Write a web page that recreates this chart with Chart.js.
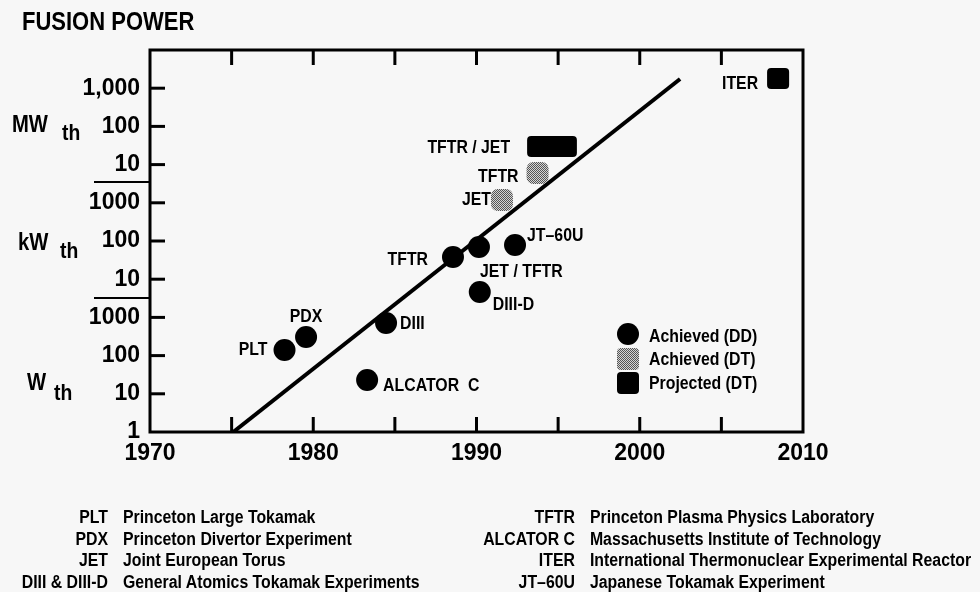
<!DOCTYPE html>
<html>
<head>
<meta charset="utf-8">
<script src="https://cdn.jsdelivr.net/npm/chart.js@4.4.1/dist/chart.umd.min.js"></script>
<style>
  body { margin: 0; background: #f7f7f7; }
  #wrap { position: relative; width: 980px; height: 592px; overflow: hidden; }
  #grafico { position: absolute; left: 0; top: 0; }
  .nar { font-family: "Liberation Sans", Arial, sans-serif; font-weight: bold; color: #000;
         transform: scaleX(0.88); transform-origin: 0 0; white-space: nowrap; }
  #titolo { position: absolute; left: 22px; top: 6px; font-size: 25px; line-height: 30px; }
  .gloss { position: absolute; top: 507px; display: grid; font-size: 18px; line-height: 21.7px; column-gap: 17px; }
  .gloss .ab { text-align: right; }
</style>
</head>
<body>
<div id="wrap">
  <canvas id="grafico" width="980" height="592"></canvas>
  <div id="titolo" class="nar">FUSION POWER</div>
  <div id="glossL" class="gloss nar" style="left:0; grid-template-columns: 122.7px auto;"></div>
  <div id="glossR" class="gloss nar" style="left:475px; grid-template-columns: 113.6px auto;"></div>
</div>
<script>
// achieved with deuterium-deuterium (black dots)
const ddNames = ['PLT', 'PDX', 'ALCATOR  C', 'DIII', 'TFTR', 'JET / TFTR', 'DIII-D', 'JT\u201360U'];
const ddYears = [1978.24, 1979.56, 1983.3, 1984.46, 1988.56, 1990.15, 1990.2, 1992.36];
const ddWatts = [140, 307, 23, 713, 38100, 69600, 4620, 78600];

// achieved with deuterium-tritium (grey squares)
const dtNames = ['JET', 'TFTR'];
const dtYears = [1991.56, 1993.74];
const dtWatts = [1.18e6, 6.03e6];

// projected deuterium-tritium (black blocks, year span)
const projNames = ['TFTR / JET', 'ITER'];
const projFrom = [1993.1, 2007.8];
const projTo = [1996.15, 2009.15];
const projWatts = [2.98e7, 1.80e9];

// trend line
const trendYears = [1975.1, 2002.47];
const trendWatts = [1, 1.74e9];

const yTickValues = [1, 10, 100, 1e3, 1e4, 1e5, 1e6, 1e7, 1e8, 1e9];
const yTickLabels = ['1', '10', '100', '1000', '10', '100', '1000', '10', '100', '1,000'];

const glossLeftAbbr = ['PLT', 'PDX', 'JET', 'DIII & DIII-D'];
const glossLeftText = ['Princeton Large Tokamak', 'Princeton Divertor Experiment', 'Joint European Torus', 'General Atomics Tokamak Experiments'];
const glossRightAbbr = ['TFTR', 'ALCATOR C', 'ITER', 'JT\u201360U'];
const glossRightText = ['Princeton Plasma Physics Laboratory', 'Massachusetts Institute of Technology', 'International Thermonuclear Experimental Reactor', 'Japanese Tokamak Experiment'];

// label placement: [dx, dy, align]
const ddLabelPos = [[-17, 0, 'right'], [0, -20, 'center'], [16, 6, 'left'], [14, 1, 'left'],
                    [-25, 3, 'right'], [1, 25, 'left'], [13, 13, 'left'], [12, -9, 'left']];
const dtLabelPos = [[-11, 0, 'right'], [-19, 4, 'right']];
const projLabelPos = [[-17, 2, 'right'], [-9, 6, 'right']];

const FONT = '"Liberation Sans", Arial, sans-serif';
const SQ = 0.88; // horizontal squeeze to mimic a condensed face

function buildGloss(id, abbr, text) {
    const el = document.getElementById(id);
    abbr.forEach((a, i) => {
        const s1 = document.createElement('span'); s1.className = 'ab'; s1.textContent = a;
        const s2 = document.createElement('span'); s2.textContent = text[i];
        el.appendChild(s1); el.appendChild(s2);
    });
}
buildGloss('glossL', glossLeftAbbr, glossLeftText);
buildGloss('glossR', glossRightAbbr, glossRightText);

function stipple() {
    const c = document.createElement('canvas');
    c.width = 2; c.height = 2;
    const g = c.getContext('2d');
    g.fillStyle = '#d4d4d4'; g.fillRect(0, 0, 2, 2);
    g.fillStyle = '#555'; g.fillRect(0, 0, 1, 1); g.fillRect(1, 1, 1, 1);
    return g.createPattern(c, 'repeat');
}
const grey = stipple();

function narrow(ctx, text, x, y, size, align) {
    ctx.save();
    ctx.font = 'bold ' + size + 'px ' + FONT;
    ctx.translate(x, y);
    ctx.scale(SQ, 1);
    ctx.textAlign = align;
    ctx.fillText(text, 0, 0);
    ctx.restore();
}

const framePlugin = {
    id: 'frame',
    beforeDatasetsDraw(chart) {
        const { ctx, chartArea: a, scales: { x, y } } = chart;
        ctx.save();
        ctx.strokeStyle = '#000';
        ctx.lineWidth = 3;
        ctx.strokeRect(a.left, a.top, a.right - a.left, a.bottom - a.top);
        // inward tick marks
        for (let yr = 1975; yr < 2010; yr += 5) {
            const px = x.getPixelForValue(yr);
            ctx.beginPath();
            ctx.moveTo(px, a.top); ctx.lineTo(px, a.top + 15);
            ctx.moveTo(px, a.bottom); ctx.lineTo(px, a.bottom - 15);
            ctx.stroke();
        }
        yTickValues.slice(1).forEach(v => {
            const py = y.getPixelForValue(v);
            ctx.beginPath();
            ctx.moveTo(a.left, py); ctx.lineTo(a.left + 15, py);
            ctx.stroke();
        });
        // unit separators
        ctx.lineWidth = 2;
        [10 ** 3.5, 10 ** 6.55].forEach(v => {
            const py = Math.round(y.getPixelForValue(v));
            ctx.beginPath(); ctx.moveTo(94, py); ctx.lineTo(a.left, py); ctx.stroke();
        });
        // unit labels
        ctx.fillStyle = '#000';
        ctx.textBaseline = 'alphabetic';
        narrow(ctx, 'MW', 12, 132, 23, 'left');
        narrow(ctx, 'th', 62, 140, 22, 'left');
        narrow(ctx, 'kW', 18, 250, 23, 'left');
        narrow(ctx, 'th', 60, 258, 22, 'left');
        narrow(ctx, 'W', 27, 390, 23, 'left');
        narrow(ctx, 'th', 54, 400, 22, 'left');
        ctx.restore();
    },
    afterDatasetsDraw(chart) {
        const { ctx, scales: { x, y } } = chart;
        ctx.save();
        ctx.fillStyle = '#000';
        ctx.textBaseline = 'middle';
        // projected blocks
        projNames.forEach((n, i) => {
            const x0 = x.getPixelForValue(projFrom[i]);
            const x1 = x.getPixelForValue(projTo[i]);
            const yc = y.getPixelForValue(projWatts[i]);
            ctx.beginPath();
            ctx.roundRect(x0, yc - 10.5, x1 - x0, 21, 4);
            ctx.fill();
            const p = projLabelPos[i];
            narrow(ctx, n, x0 + p[0], yc + p[1], 18, p[2]);
        });
        const label = (names, years, watts, pos) => {
            names.forEach((n, i) => {
                const p = pos[i];
                narrow(ctx, n, x.getPixelForValue(years[i]) + p[0], y.getPixelForValue(watts[i]) + p[1], 18, p[2]);
            });
        };
        label(ddNames, ddYears, ddWatts, ddLabelPos);
        label(dtNames, dtYears, dtWatts, dtLabelPos);

        // legend
        ctx.beginPath(); ctx.arc(628, 334, 11, 0, Math.PI * 2); ctx.fill();
        ctx.fillStyle = grey;
        ctx.beginPath(); ctx.roundRect(617, 348, 22, 22, 4); ctx.fill();
        ctx.fillStyle = '#000';
        ctx.beginPath(); ctx.roundRect(617, 372, 22, 22, 4); ctx.fill();
        narrow(ctx, 'Achieved (DD)', 649, 337, 18, 'left');
        narrow(ctx, 'Achieved (DT)', 649, 360, 18, 'left');
        narrow(ctx, 'Projected (DT)', 649, 384, 18, 'left');
        ctx.restore();
    }
};

const ctx = document.getElementById('grafico').getContext('2d');
new Chart(ctx, {
    type: 'scatter',
    data: {
        datasets: [{
            type: 'line',
            label: 'trend',
            data: trendYears.map((v, i) => ({ x: v, y: trendWatts[i] })),
            borderColor: '#000',
            borderWidth: 4,
            pointRadius: 0,
            order: 3
        }, {
            label: 'Achieved (DD)',
            data: ddYears.map((v, i) => ({ x: v, y: ddWatts[i] })),
            pointStyle: 'circle',
            pointRadius: 11,
            backgroundColor: '#000',
            borderWidth: 0,
            order: 1
        }, {
            label: 'Achieved (DT)',
            data: dtYears.map((v, i) => ({ x: v, y: dtWatts[i] })),
            pointStyle: 'rectRounded',
            pointRadius: 12.8,
            backgroundColor: grey,
            borderWidth: 0,
            order: 1
        }]
    },
    options: {
        responsive: false,
        animation: false,
        layout: { padding: { left: 0, top: 50, right: 177, bottom: 0 }, autoPadding: false },
        plugins: { legend: { display: false }, tooltip: { enabled: false } },
        scales: {
            x: {
                type: 'linear',
                min: 1970, max: 2010,
                grid: { display: false, drawTicks: false },
                border: { display: false },
                ticks: {
                    stepSize: 5, autoSkip: false, maxRotation: 0, padding: 8,
                    color: '#000',
                    font: { family: FONT, size: 23, weight: 'bold' },
                    callback: v => (v % 10 === 0 ? String(v) : '')
                },
                afterFit: s => { s.height = 160; }
            },
            y: {
                type: 'logarithmic',
                min: 1, max: 1e10,
                grid: { display: false, drawTicks: false },
                border: { display: false },
                afterBuildTicks: s => { s.ticks = yTickValues.map(v => ({ value: v })); },
                ticks: {
                    padding: 10,
                    color: '#000',
                    font: { family: FONT, size: 23, weight: 'bold' },
                    callback: (v, i) => yTickLabels[i]
                },
                afterFit: s => { s.width = 150; }
            }
        }
    },
    plugins: [framePlugin]
});
</script>
</body>
</html>
